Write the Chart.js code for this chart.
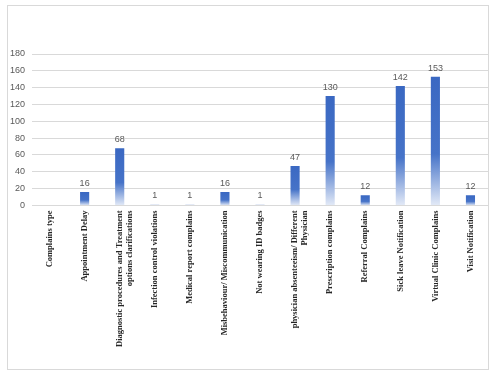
<!DOCTYPE html>
<html>
<head>
<meta charset="utf-8">
<script src="https://cdn.jsdelivr.net/npm/chart.js@4"></script>
<style>
  body { margin: 0; background: #fff; }
  #frame {
    position: absolute;
    left: 7px;
    top: 5px;
    width: 480px;
    height: 363px;
    border: 1px solid #d9d9d9;
  }
  #wrap {
    position: absolute;
    left: 0;
    top: 0;
    width: 495px;
    height: 376px;
  }
</style>
</head>
<body>
<div id="frame"></div>
<div id="wrap"><canvas id="barChart"></canvas></div>
<script>
const categories = [
  "Complains type",
  "Appointment Delay",
  ["Diagnostic procedures and Treatment", "options clarifications"],
  "Infection control violations",
  "Medical report complains",
  "Misbehaviour/ Miscommunication",
  "Not wearing ID badges",
  ["physician absenteeism/ Different", "Physician"],
  "Prescription complains",
  "Referral Complains",
  "Sick leave Notification",
  "Virtual Clinic Complains",
  "Visit Notification",
];
const complaintCounts = [null, 16, 68, 1, 1, 16, 1, 47, 130, 12, 142, 153, 12];
const yTicks = [0, 20, 40, 60, 80, 100, 120, 140, 160, 180];

document.addEventListener("DOMContentLoaded", function () {
  const ctx = document.getElementById("barChart").getContext("2d");

  // each bar fades from solid blue at the top to pale at the base
  function barGradient(context) {
    const chart = context.chart;
    const yScale = chart.scales.y;
    const value = context.raw;
    if (!yScale || value == null) return "#4472c4";
    const top = yScale.getPixelForValue(value);
    const base = yScale.getPixelForValue(0);
    if (!isFinite(top) || !isFinite(base) || base - top < 2) return "#c9d6ee";
    const g = chart.ctx.createLinearGradient(0, top, 0, base);
    g.addColorStop(0, "#3a68c2");
    g.addColorStop(0.6, "#4673c8");
    g.addColorStop(1, "#e3eaf7");
    return g;
  }

  const valueLabels = {
    id: "valueLabels",
    afterDatasetsDraw(chart) {
      const c = chart.ctx;
      const meta = chart.getDatasetMeta(0);
      c.save();
      c.font = "9px 'Liberation Sans', Arial, sans-serif";
      c.fillStyle = "#595959";
      c.textAlign = "center";
      c.textBaseline = "bottom";
      meta.data.forEach(function (bar, i) {
        const v = complaintCounts[i];
        if (v == null) return;
        c.fillText(String(v), bar.x, bar.y - 4);
      });
      c.restore();
    },
  };

  new Chart(ctx, {
    type: "bar",
    data: {
      labels: categories,
      datasets: [
        {
          label: "Complaints",
          data: complaintCounts,
          backgroundColor: barGradient,
          borderWidth: 0,
          minBarLength: 1,
          barPercentage: 0.5,
          categoryPercentage: 0.52,
        },
      ],
    },
    options: {
      responsive: true,
      maintainAspectRatio: false,
      animation: false,
      layout: {
        padding: { left: 3, right: 7, top: 0, bottom: 24 },
      },
      plugins: {
        legend: { display: false },
        tooltip: { enabled: false },
        // empty title only reserves the blank band above the plot
        title: {
          display: true,
          text: "",
          font: { size: 10 },
          padding: { top: 42, bottom: 0 },
        },
      },
      scales: {
        x: {
          grid: { display: false, drawTicks: false },
          border: { color: "#d9d9d9" },
          ticks: {
            autoSkip: false,
            minRotation: 90,
            maxRotation: 90,
            padding: 5,
            color: "#262626",
            font: { family: "'Liberation Serif', 'Times New Roman', serif", size: 8.5, weight: "bold" },
          },
        },
        y: {
          min: 0,
          max: 180,
          afterBuildTicks: function (axis) {
            axis.ticks = yTicks.map(function (v) { return { value: v }; });
          },
          grid: { color: "#d9d9d9", drawTicks: false },
          border: { display: false },
          ticks: {
            padding: 7,
            color: "#595959",
            font: { family: "'Liberation Sans', Arial, sans-serif", size: 9 },
          },
        },
      },
    },
    plugins: [valueLabels],
  });
});
</script>
</body>
</html>
